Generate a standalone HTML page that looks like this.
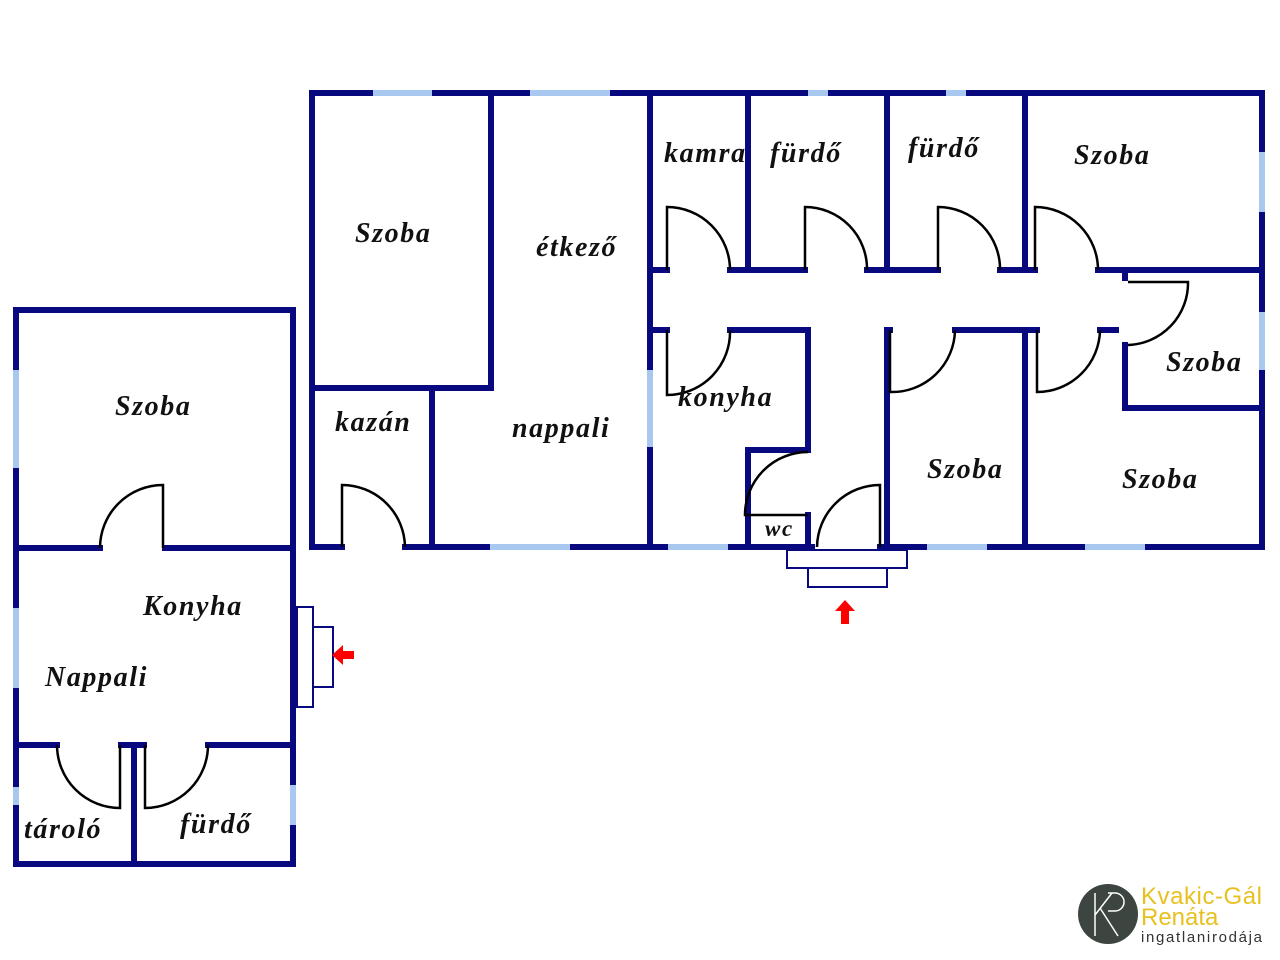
<!DOCTYPE html>
<html><head><meta charset="utf-8"><style>
html,body{margin:0;padding:0;background:#fff;}
svg{display:block}
text.l{font-family:"Liberation Serif",serif;font-style:italic;font-weight:bold;font-size:28px;letter-spacing:1.6px;fill:#111;}
</style></head><body>
<svg width="1280" height="960" viewBox="0 0 1280 960" xmlns="http://www.w3.org/2000/svg">
<g stroke="#08087f" stroke-width="6" stroke-linecap="square" fill="none">
<line x1="312" y1="93" x2="1262" y2="93"/>
<line x1="312" y1="93" x2="312" y2="547"/>
<line x1="1262" y1="93" x2="1262" y2="547"/>
<line x1="312" y1="547" x2="342" y2="547"/>
<line x1="405" y1="547" x2="812" y2="547"/>
<line x1="880" y1="547" x2="1262" y2="547"/>
<line x1="491" y1="93" x2="491" y2="388"/>
<line x1="312" y1="388" x2="491" y2="388"/>
<line x1="432" y1="388" x2="432" y2="547"/>
<line x1="650" y1="93" x2="650" y2="547"/>
<line x1="650" y1="270" x2="667" y2="270"/>
<line x1="730" y1="270" x2="805" y2="270"/>
<line x1="867" y1="270" x2="938" y2="270"/>
<line x1="1000" y1="270" x2="1035" y2="270"/>
<line x1="1098" y1="270" x2="1262" y2="270"/>
<line x1="748" y1="93" x2="748" y2="270"/>
<line x1="887" y1="93" x2="887" y2="270"/>
<line x1="1025" y1="93" x2="1025" y2="270"/>
<line x1="1125" y1="270" x2="1125" y2="278"/>
<line x1="1125" y1="345" x2="1125" y2="408"/>
<line x1="1125" y1="408" x2="1262" y2="408"/>
<line x1="650" y1="330" x2="667" y2="330"/>
<line x1="730" y1="330" x2="808" y2="330"/>
<line x1="808" y1="330" x2="808" y2="450"/>
<line x1="748" y1="450" x2="808" y2="450"/>
<line x1="748" y1="450" x2="748" y2="547"/>
<line x1="808" y1="515" x2="808" y2="547"/>
<line x1="887" y1="330" x2="887" y2="547"/>
<line x1="887" y1="330" x2="890" y2="330"/>
<line x1="955" y1="330" x2="1037" y2="330"/>
<line x1="1100" y1="330" x2="1116" y2="330"/>
<line x1="1025" y1="330" x2="1025" y2="547"/>
<line x1="16" y1="310" x2="293" y2="310"/>
<line x1="16" y1="310" x2="16" y2="864"/>
<line x1="293" y1="310" x2="293" y2="864"/>
<line x1="16" y1="864" x2="293" y2="864"/>
<line x1="16" y1="548" x2="100" y2="548"/>
<line x1="165" y1="548" x2="293" y2="548"/>
<line x1="16" y1="745" x2="57" y2="745"/>
<line x1="121" y1="745" x2="144" y2="745"/>
<line x1="208" y1="745" x2="293" y2="745"/>
<line x1="134" y1="745" x2="134" y2="864"/>
</g>
<g stroke="#a8c8f0" stroke-width="6">
<line x1="373" y1="93" x2="432" y2="93"/>
<line x1="530" y1="93" x2="610" y2="93"/>
<line x1="808" y1="93" x2="828" y2="93"/>
<line x1="946" y1="93" x2="966" y2="93"/>
<line x1="1262" y1="152" x2="1262" y2="212"/>
<line x1="1262" y1="312" x2="1262" y2="370"/>
<line x1="650" y1="370" x2="650" y2="447"/>
<line x1="490" y1="547" x2="570" y2="547"/>
<line x1="668" y1="547" x2="728" y2="547"/>
<line x1="927" y1="547" x2="987" y2="547"/>
<line x1="1085" y1="547" x2="1145" y2="547"/>
<line x1="16" y1="370" x2="16" y2="468"/>
<line x1="16" y1="608" x2="16" y2="688"/>
<line x1="16" y1="787" x2="16" y2="805"/>
<line x1="293" y1="785" x2="293" y2="825"/>
</g>
<g stroke="#000" stroke-width="2.5" fill="none">
<path d="M342 547 V485 A63 63 0 0 1 405 547"/>
<path d="M667 270 V207 A63 63 0 0 1 730 270"/>
<path d="M805 270 V207 A62 62 0 0 1 867 270"/>
<path d="M938 270 V207 A62 62 0 0 1 1000 270"/>
<path d="M1035 270 V207 A63 63 0 0 1 1098 270"/>
<path d="M1128 282 H1188 A62 62 0 0 1 1128 345"/>
<path d="M667 330 V395 A63 63 0 0 0 730 330"/>
<path d="M890 330 V392 A63 63 0 0 0 955 330"/>
<path d="M1037 330 V392 A63 63 0 0 0 1100 330"/>
<path d="M808 515 H745 A63 63 0 0 1 808 452"/>
<path d="M817 547 A63 63 0 0 1 880 485 V547"/>
<path d="M100 548 A63 63 0 0 1 163 485 V548"/>
<path d="M57 745 A63 63 0 0 0 120 808 V745"/>
<path d="M208 745 A63 63 0 0 1 145 808 V745"/>
</g>
<g stroke="#08087f" stroke-width="2" fill="none">
<rect x="787" y="550" width="120" height="18"/>
<rect x="808" y="568" width="79" height="19"/>
<rect x="297" y="607" width="16" height="100"/>
<rect x="313" y="627" width="20" height="60"/>
</g>
<g fill="#f00">
<polygon points="845,600 855,611 849,611 849,624 841,624 841,611 835,611"/>
<polygon points="332,655 343,645 343,651 354,651 354,659 343,659 343,665"/>
</g>
<text class="l" x="355" y="242">Szoba</text>
<text class="l" x="536" y="256">étkező</text>
<text class="l" x="664" y="162">kamra</text>
<text class="l" x="770" y="162">fürdő</text>
<text class="l" x="908" y="157">fürdő</text>
<text class="l" x="1074" y="164">Szoba</text>
<text class="l" x="1166" y="371">Szoba</text>
<text class="l" x="335" y="431">kazán</text>
<text class="l" x="512" y="437">nappali</text>
<text class="l" x="678" y="406">konyha</text>
<text class="l" x="927" y="478">Szoba</text>
<text class="l" x="1122" y="488">Szoba</text>
<text class="l" x="765" y="536" style="font-size:23px">wc</text>
<text class="l" x="115" y="415">Szoba</text>
<text class="l" x="143" y="615">Konyha</text>
<text class="l" x="45" y="686">Nappali</text>
<text class="l" x="24" y="838">tároló</text>
<text class="l" x="180" y="833">fürdő</text>
<circle cx="1108" cy="914" r="30" fill="#3d4540"/>
<g stroke="#fff" stroke-width="1.5" fill="none">
<line x1="1095" y1="893" x2="1095" y2="936"/>
<path d="M1095 915 L1112 893 M1100 908 L1118 936"/>
<path d="M1108 893 H1115 A9 9 0 0 1 1115 911 H1108"/>
</g>
<g font-family="Liberation Sans, sans-serif" fill="#e8c020">
<text x="1141" y="904" font-size="24" textLength="121">Kvakic-Gál</text>
<text x="1141" y="925" font-size="24">Renáta</text>
</g>
<text x="1141" y="942" font-family="Liberation Sans, sans-serif" font-size="15" fill="#333" textLength="121">ingatlanirodája</text>
</svg>
</body></html>
